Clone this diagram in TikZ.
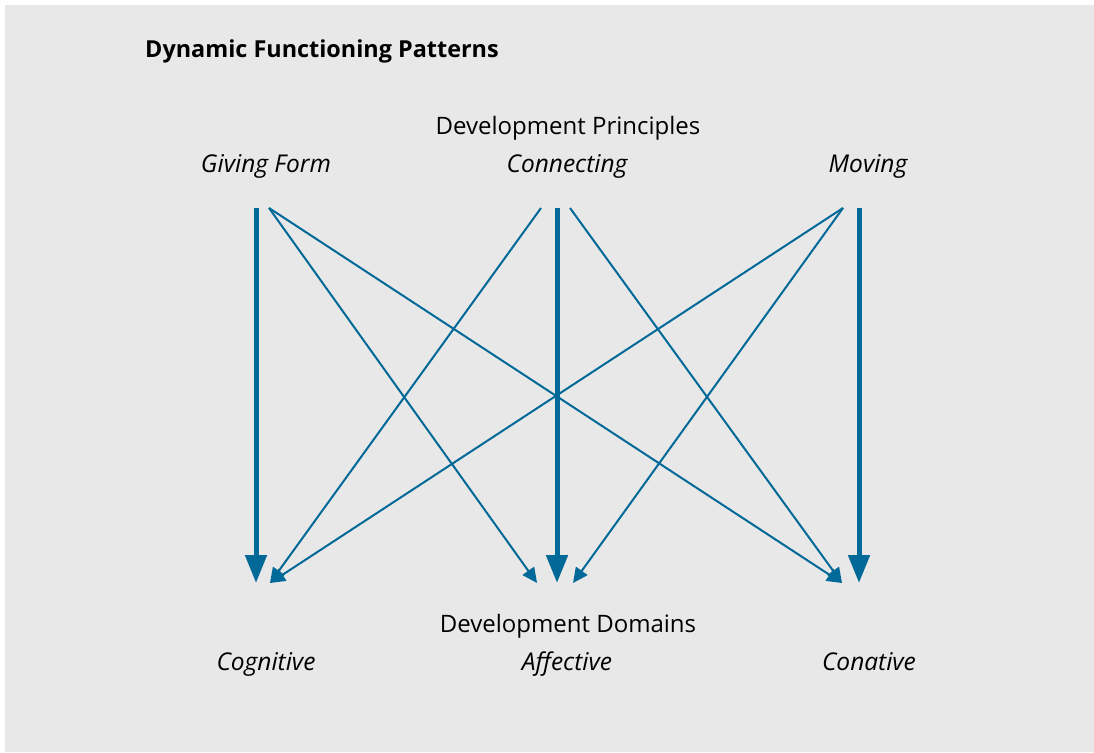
\documentclass[tikz,border=0pt]{standalone}
\usepackage{fontspec}
\setmainfont{Open Sans}
\usetikzlibrary{arrows.meta,positioning}
\definecolor{flowblue}{RGB}{0,105,152}
\definecolor{panelgray}{RGB}{232,232,232}

\begin{document}
\begin{tikzpicture}[
  x=1pt, y=-1pt,
  title/.style={font=\fontsize{23.4}{28}\selectfont\bfseries, inner sep=0pt, anchor=base west},
  heading/.style={font=\fontsize{24}{28}\selectfont, inner sep=0pt, anchor=base},
  term/.style={font=\fontsize{24.5}{28}\selectfont\itshape, inner sep=0pt, anchor=base},
  mainarr/.style={draw=flowblue, fill=flowblue, line width=5pt,
                  -{Triangle[length=28pt, width=21pt]}},
  crossarr/.style={draw=flowblue, fill=flowblue, line width=2pt,
                   -{Triangle[length=15pt, width=14pt]}}
]
\useasboundingbox (0,0) rectangle (1094,752);
\fill[panelgray] (5,5) rectangle (1094,752);

\node[title] at (145,57) (ttl) {Dynamic Functioning Patterns};

\node[heading] at (568,134) (principles) {Development Principles};
\node[term] at (266,172) (form) {Giving Form};
\node[term] at (567,172) (connect) {Connecting};
\node[term] at (868,172) (move) {Moving};

\node[heading] at (568,632) (domains) {Development Domains};
\node[term] at (266,670) (cognitive) {Cognitive};
\node[term] at (567,670) (affective) {Affective};
\node[term] at (869,670) (conative) {Conative};

% start points
\coordinate (form-main) at (256,208);
\coordinate (form-cross) at (269,208);
\coordinate (connect-left) at (541,208);
\coordinate (connect-main) at (557,208);
\coordinate (connect-right) at (570,208);
\coordinate (move-cross) at (843,208);
\coordinate (move-main) at (859,208);

% end points
\coordinate (cognitive-main) at (256,583);
\coordinate (cognitive-cross) at (270,583);
\coordinate (affective-left) at (537,583);
\coordinate (affective-main) at (557,583);
\coordinate (affective-right) at (573,583);
\coordinate (conative-cross) at (842,583);
\coordinate (conative-main) at (859,583);

\draw[mainarr] (form-main) -- (cognitive-main);
\draw[mainarr] (connect-main) -- (affective-main);
\draw[mainarr] (move-main) -- (conative-main);

\draw[crossarr] (form-cross) -- (affective-left);
\draw[crossarr] (form-cross) -- (conative-cross);
\draw[crossarr] (connect-left) -- (cognitive-cross);
\draw[crossarr] (connect-right) -- (conative-cross);
\draw[crossarr] (move-cross) -- (cognitive-cross);
\draw[crossarr] (move-cross) -- (affective-right);

\end{tikzpicture}
\end{document}
